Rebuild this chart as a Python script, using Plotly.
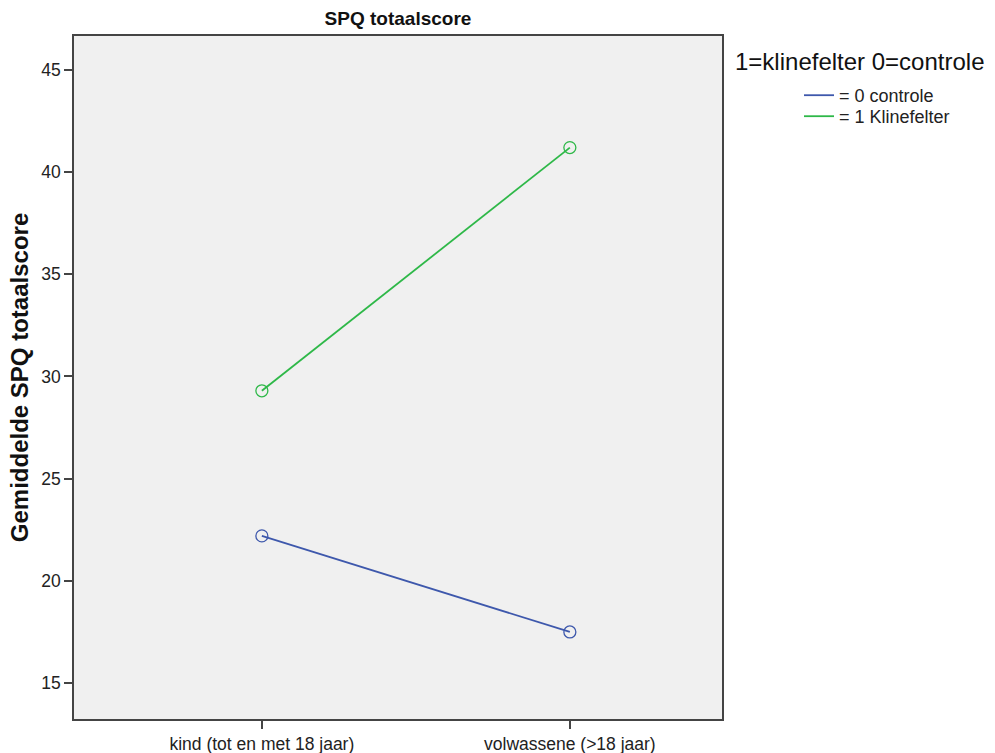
import plotly.graph_objects as go

categories = ["kind (tot en met 18 jaar)", "volwassene (>18 jaar)"]
controle = [22.2, 17.5]
klinefelter = [29.3, 41.2]
series_names = ["= 0 controle", "= 1 Klinefelter"]
y_ticks = [15, 20, 25, 30, 35, 40, 45]

FONT = "Arial, Liberation Sans, sans-serif"
BLUE = "#3E58AC"
GREEN = "#2EB848"

L, T, PW, PH = 74, 36, 648, 683
W, H = 995, 753

fig = go.Figure()
legends = ["legend", "legend2"]
for name, vals, col, lg in [(series_names[0], controle, BLUE, legends[0]),
                            (series_names[1], klinefelter, GREEN, legends[1])]:
    fig.add_trace(go.Scatter(
        x=[0, 1], y=vals, name=name, mode="lines", legend=lg,
        line=dict(color=col, width=1.8), showlegend=True,
    ))
for name, vals, col in [(series_names[0], controle, BLUE), (series_names[1], klinefelter, GREEN)]:
    fig.add_trace(go.Scatter(
        x=[0, 1], y=vals, name=name, mode="markers", showlegend=False,
        marker=dict(symbol="circle-open", size=12, color=col, line=dict(width=1.3)),
    ))

def legend_at(top_px):
    return dict(
        x=(799 - L) / PW, xanchor="left", y=1 - (top_px - T) / PH, yanchor="top",
        bgcolor="rgba(0,0,0,0)", font=dict(size=18, color="#222"),
    )

fig.update_layout(
    width=W, height=H,
    margin=dict(l=L, r=W - L - PW, t=T, b=H - T - PH, autoexpand=False),
    paper_bgcolor="white",
    plot_bgcolor="#F0F0F0",
    font=dict(family=FONT, color="#222"),
    title=dict(text="SPQ totaalscore", x=(L + PW / 2) / W, xanchor="center",
               y=1 - 18 / H, yanchor="middle", yref="container",
               font=dict(size=19, weight="bold", color="#111")),
    xaxis=dict(
        range=[-0.61, 1.494], tickmode="array", tickvals=[0, 1], ticktext=categories,
        showgrid=False, zeroline=False, showline=True, linecolor="#444", linewidth=1.6,
        mirror=True, ticks="outside", ticklen=8, tickcolor="#444", tickwidth=1.6,
        tickfont=dict(size=17.5, color="#222"), automargin=False,
    ),
    yaxis=dict(
        range=[13.24, 46.66], tickvals=y_ticks,
        showgrid=False, zeroline=False, showline=True, linecolor="#444", linewidth=1.6,
        mirror=True, ticks="outside", ticklen=8, tickcolor="#444", tickwidth=1.6,
        tickfont=dict(size=17.5, color="#222"), automargin=False,
        title=dict(text="Gemiddelde SPQ totaalscore", standoff=6,
                   font=dict(size=24, weight="bold", color="#111")),
    ),
    legend=legend_at(77),
    legend2=legend_at(98),
    annotations=[dict(
        text="1=klinefelter 0=controle", xref="paper", yref="paper",
        x=(733 - L) / PW, xanchor="left", y=1 - (61 - T) / PH, yanchor="middle",
        showarrow=False, font=dict(size=24, color="#111"),
    )],
)

fig.write_html("out.html", config={"displayModeBar": False},
               post_script="document.body.style.margin='0';")
